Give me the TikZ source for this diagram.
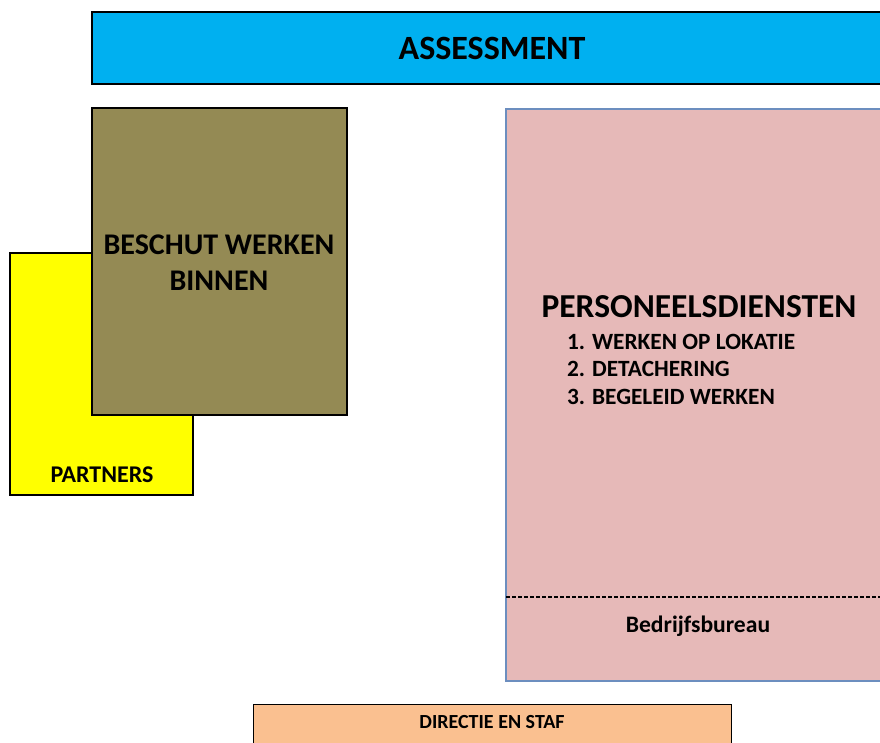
\documentclass[tikz,border=0pt]{standalone}
\usepackage{fontspec}
\setmainfont{Carlito}
\usepackage{tikz}
\usetikzlibrary{positioning,calc}

\definecolor{assessblue}{HTML}{00B0F0}
\definecolor{geel}{HTML}{FFFF00}
\definecolor{olijf}{HTML}{948A54}
\definecolor{roze}{HTML}{E6B9B8}
\definecolor{rozerand}{HTML}{6C8EBF}
\definecolor{oranje}{HTML}{FAC090}

\begin{document}
\begin{tikzpicture}[x=1pt,y=-1pt,font=\bfseries,line width=1.5pt]
\clip (0,0) rectangle (880,743);
\draw[fill=assessblue] (92,12) rectangle (890,84);\node (assess) at (492,48) {\fontsize{34}{40}\selectfont ASSESSMENT};
\draw[fill=geel] (10,253) rectangle (193,495);\node (partners) at (102,475) {\fontsize{24}{28}\selectfont PARTNERS};
\draw[fill=olijf] (92,108) rectangle (347,415);
\node[align=center,font=\fontsize{30}{36}\selectfont\bfseries] (beschut) at (219,263) {BESCHUT WERKEN\\BINNEN};
\draw[draw=rozerand,fill=roze] (506,109) rectangle (890,681);
\draw[dash pattern=on 4pt off 2pt,line width=1.5pt] (506,597) -- (890,597);
\node (personeel) at (699,307) {\fontsize{33.5}{40}\selectfont PERSONEELSDIENSTEN};
\node[anchor=west,font=\fontsize{23.3}{27.5}\selectfont\bfseries,align=left] (lijst) at (563,369)
  {1. WERKEN OP LOKATIE\\2. DETACHERING\\3. BEGELEID WERKEN};
\node (bureau) at (698,626) {\fontsize{23.6}{28}\selectfont Bedrijfsbureau};
\draw[line width=1pt,fill=oranje] (253,704) rectangle (731,760);\node (directie) at (492,722) {\fontsize{20}{24}\selectfont DIRECTIE EN STAF};
\end{tikzpicture}
\end{document}
